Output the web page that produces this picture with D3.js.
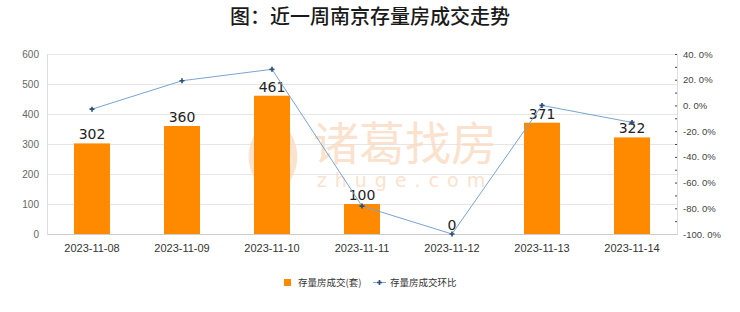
<!DOCTYPE html>
<html>
<head>
<meta charset="utf-8">
<script src="https://cdn.jsdelivr.net/npm/d3@7"></script>
<style>
  body { margin: 0; background: #fff; }
  svg { display: block; font-family: "DejaVu Sans", sans-serif; }
</style>
</head>
<body>
<svg id="chart" width="740" height="312"></svg>
<script>
// data
var dates = ["2023-11-08", "2023-11-09", "2023-11-10", "2023-11-11", "2023-11-12", "2023-11-13", "2023-11-14"];
var deals = [302, 360, 461, 100, 0, 371, 322];
var ratio = [-2.9, 19.2, 28.1, -78.3, -100, 0, -13.2];
var leftTicks = [0, 100, 200, 300, 400, 500, 600];
var rightTicks = [40, 20, 0, -20, -40, -60, -80, -100];

var svg = d3.select("#chart");
var cjk = "'Noto Sans CJK SC', sans-serif";

var x = d3.scaleBand().domain(dates).range([47, 677]).paddingInner(0.6).paddingOuter(0.3);
var yL = d3.scaleLinear().domain([0, 600]).range([234, 54]);
var yR = d3.scaleLinear().domain([-100, 40]).range([234, 54]);

// title
svg.append("text")
    .attr("x", 370).attr("y", 24)
    .attr("text-anchor", "middle")
    .style("font-family", cjk)
    .style("font-size", "20px")
    .style("font-weight", "500")
    .attr("fill", "#1a1a1a")
    .text("图：近一周南京存量房成交走势");

// grid
svg.append("g").selectAll("line")
    .data(leftTicks.filter(d => d > 0))
    .enter().append("line")
    .attr("x1", 47).attr("x2", 677)
    .attr("y1", d => yL(d) + 0.5).attr("y2", d => yL(d) + 0.5)
    .attr("stroke", "#e6e6e6");

// watermark
var wm = svg.append("g").attr("fill", "#fadcc2").attr("opacity", 0.8);
wm.append("path")
    .attr("d", "M264,122 C246,140 242,168 262,188 C252,168 253,142 268,127 Z");
wm.append("path")
    .attr("d", "M282,122 C300,140 304,168 284,188 C294,168 293,142 278,127 Z");
wm.append("text")
    .attr("x", 405).attr("y", 160)
    .attr("text-anchor", "middle")
    .style("font-family", cjk)
    .style("font-size", "46px")
    .text("诸葛找房");
wm.append("text")
    .attr("x", 405).attr("y", 187)
    .attr("text-anchor", "middle")
    .style("font-size", "19px")
    .style("letter-spacing", "8px")
    .text("zhuge.com");

// axes
var axL = svg.append("g")
    .attr("transform", "translate(47,0)")
    .call(d3.axisLeft(yL).tickValues(leftTicks).tickSize(0).tickPadding(8));
axL.select(".domain").attr("stroke", "#ddd");
axL.selectAll("text").attr("fill", "#666").style("font-size", "10px");

var axR = svg.append("g")
    .attr("transform", "translate(677,0)")
    .call(d3.axisRight(yR).tickValues(d3.range(-100, 41, 10)).tickSize(-2).tickPadding(6)
        .tickFormat(d => d % 20 === 0 ? d.toFixed(1).replace(".", ". ") + "%" : ""));
axR.select(".domain").attr("stroke", "#ddd");
axR.selectAll(".tick line").attr("stroke", "#444");
axR.selectAll("text").attr("fill", "#444").style("font-size", "9.5px");

var axB = svg.append("g")
    .attr("transform", "translate(0,234)")
    .call(d3.axisBottom(x).tickSize(0).tickPadding(10));
axB.select(".domain").attr("stroke", "#ccc");
axB.selectAll("text").attr("fill", "#333").style("font-size", "11px");

// bars
svg.append("g").selectAll("rect")
    .data(deals)
    .enter().append("rect")
    .attr("x", (d, i) => x(dates[i]))
    .attr("y", d => yL(d))
    .attr("width", x.bandwidth())
    .attr("height", d => 234 - yL(d))
    .attr("fill", "#ff8a00");

svg.append("g").selectAll("text")
    .data(deals)
    .enter().append("text")
    .attr("x", (d, i) => x(dates[i]) + x.bandwidth() / 2)
    .attr("y", d => yL(d) - 4)
    .attr("text-anchor", "middle")
    .attr("fill", "#222")
    .style("font-size", "14px")
    .text(d => d);

// ratio line
var line = d3.line()
    .x((d, i) => x(dates[i]) + x.bandwidth() / 2)
    .y(d => yR(d));

svg.append("path")
    .datum(ratio)
    .attr("fill", "none")
    .attr("stroke", "#7aa3d4")
    .attr("stroke-width", 1)
    .attr("d", line);

var cross = d3.symbol().type(d3.symbolCross).size(14);
svg.append("g").selectAll("path")
    .data(ratio)
    .enter().append("path")
    .attr("transform", (d, i) => "translate(" + (x(dates[i]) + x.bandwidth() / 2) + "," + yR(d) + ")")
    .attr("d", cross)
    .attr("fill", "#2c4f7c");

// legend
var lg = svg.append("g").style("font-family", cjk).style("font-size", "9.5px").attr("fill", "#333");
lg.append("rect").attr("x", 284).attr("y", 279).attr("width", 7).attr("height", 7).attr("fill", "#ff8a00");
lg.append("text").attr("x", 298).attr("y", 286).text("存量房成交(套)");
lg.append("line").attr("x1", 373).attr("x2", 386).attr("y1", 282.5).attr("y2", 282.5)
    .attr("stroke", "#7aa3d4");
lg.append("path").attr("transform", "translate(379.5,282.5)").attr("d", cross).attr("fill", "#2c4f7c");
lg.append("text").attr("x", 390).attr("y", 286).text("存量房成交环比");
</script>
</body>
</html>
